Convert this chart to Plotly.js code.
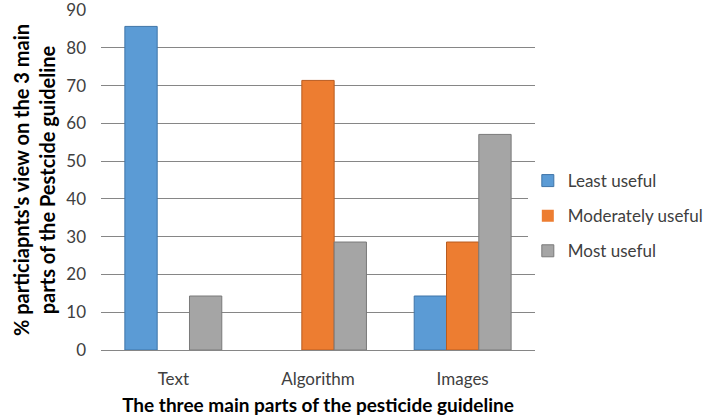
<!DOCTYPE html>
<html>
<head>
<meta charset="utf-8">
<script src="https://cdn.plot.ly/plotly-3.0.1.min.js"></script>
<style>
  html, body { margin: 0; padding: 0; background: #fff; }
  #chart { width: 709px; height: 419px; }
</style>
</head>
<body>
<div id="chart"></div>
<script>
const parts = ["Text", "Algorithm", "Images"];
const leastUseful = [85.7, 0, 14.3];
const moderatelyUseful = [0, 71.4, 28.6];
const mostUseful = [14.3, 28.6, 57.1];

const font = "Lato, 'Open Sans', sans-serif";

function series(name, values, fill, edge) {
  return {
    type: "bar",
    name: name,
    x: parts,
    y: values,
    legendgroup: name,
    marker: {
      color: fill,
      // no outline on empty bars
      line: { color: edge, width: values.map((v) => (v > 0 ? 1 : 0)) },
    },
    hoverinfo: "y",
  };
}

Plotly.newPlot(
  "chart",
  [
    series("Least useful", leastUseful, "#5b9bd5", "#3f75a8"),
    series("Moderately useful", moderatelyUseful, "#ed7d31", "#b85c20"),
    series("Most useful", mostUseful, "#a5a5a5", "#7a7a7a"),
  ],
  {
    width: 709,
    height: 419,
    margin: { l: 101, r: 0, t: 10, b: 69 },
    paper_bgcolor: "#fff",
    plot_bgcolor: "#fff",
    barmode: "group",
    bargap: 0.33,
    bargroupgap: 0,
    font: { family: font, size: 18, color: "#404040" },
    xaxis: {
      domain: [0, 0.7138],
      showgrid: false,
      showline: true,
      linecolor: "#868686",
      linewidth: 1,
      ticks: "",
      ticklabelstandoff: 14,
      tickfont: { size: 17, color: "#404040" },
      title: {
        text: "<b>The three main parts of the pesticide guideline</b>",
        font: { size: 19, color: "#000" },
        standoff: 10,
      },
    },
    yaxis: {
      range: [0, 90.05],
      tickmode: "linear",
      tick0: 0,
      dtick: 10,
      showgrid: true,
      gridcolor: "#868686",
      gridwidth: 1,
      zeroline: false,
      showline: false,
      ticks: "",
      ticklabelstandoff: 14,
      ticklabeloverflow: "allow",
      tickfont: { size: 17, color: "#404040" },
      title: {
        text: "<b>% particiapnts's view on the 3 main<br>parts of the Pestcide guideline</b>",
        font: { size: 20, color: "#000" },
        standoff: 5,
      },
    },
    legend: {
      x: 0.702,
      xanchor: "left",
      y: 0.394,
      yanchor: "middle",
      traceorder: "grouped",
      tracegroupgap: 10,
      font: { size: 17, color: "#404040" },
      itemwidth: 30,
    },
  },
  { displayModeBar: false, responsive: false }
);
</script>
</body>
</html>
